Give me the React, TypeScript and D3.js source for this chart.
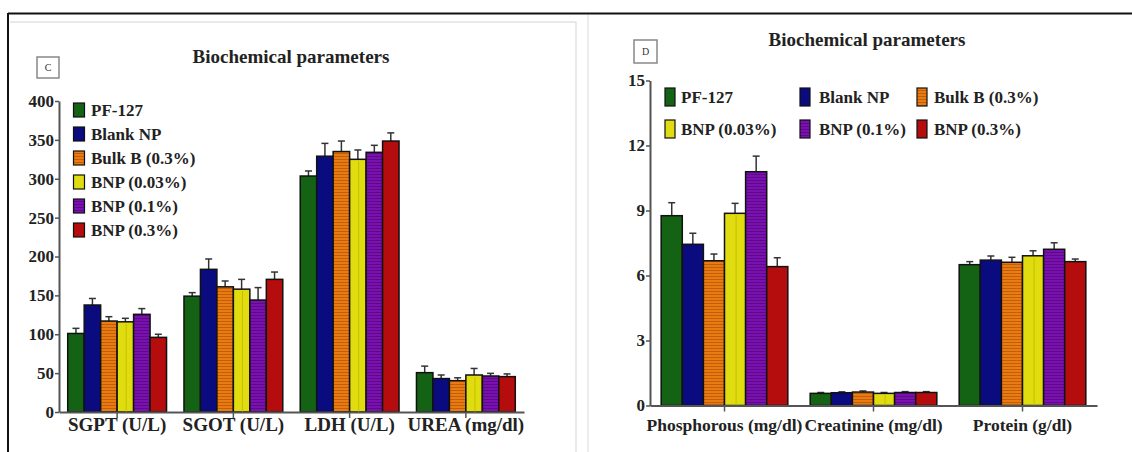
import { useRef, useEffect } from 'react';
import * as d3 from 'd3';

const GROUPS = ['PF-127', 'Blank NP', 'Bulk B (0.3%)', 'BNP (0.03%)', 'BNP (0.1%)', 'BNP (0.3%)'];
const COLORS = ['#146314', '#0b0b80', '#ea7a12', '#e0dc10', '#7a10b0', '#b50d0d'];

const LEFT_CATEGORIES = ['SGPT (U/L)', 'SGOT (U/L)', 'LDH (U/L)', 'UREA (mg/dl)'];
const LEFT_MEANS = [
  [101, 137.6, 117, 116, 125.6, 96],
  [149, 183.5, 161, 158, 144, 170.6],
  [303.5, 329, 335, 325, 334, 348.5],
  [50.6, 43, 40.3, 47.6, 46.3, 45.5],
];
const LEFT_ERRORS = [
  [6.6, 8.4, 5.6, 4.5, 7.4, 4],
  [4.5, 13.3, 7.5, 12.6, 16, 9.4],
  [6.5, 16.5, 13.5, 12, 9, 10.5],
  [8.4, 4.6, 3.7, 8.4, 3.4, 3.5],
];
const LEFT_TICKS = [0, 50, 100, 150, 200, 250, 300, 350, 400];

const RIGHT_CATEGORIES = ['Phosphorous (mg/dl)', 'Creatinine (mg/dl)', 'Protein (g/dl)'];
const RIGHT_MEANS = [
  [8.76, 7.44, 6.68, 8.87, 10.79, 6.41],
  [0.56, 0.59, 0.62, 0.56, 0.6, 0.6],
  [6.5, 6.71, 6.61, 6.91, 7.21, 6.64],
];
const RIGHT_ERRORS = [
  [0.6, 0.51, 0.31, 0.46, 0.72, 0.41],
  [0.04, 0.04, 0.05, 0.04, 0.04, 0.04],
  [0.14, 0.19, 0.23, 0.23, 0.3, 0.12],
];
const RIGHT_TICKS = [0, 3, 6, 9, 12, 15];

const FONT = '"Liberation Serif", "Times New Roman", serif';

type Panel = {
  categories: string[];
  means: number[][];
  errors: number[][];
  ticks: number[];
  xRange: [number, number];
  yRange: [number, number];
  catFont: number;
  title: string;
  titleX: number;
  titleY: number;
  letter: string;
  box: [number, number, number, number];
};

export default function App() {
  const ref = useRef<SVGSVGElement>(null);

  useEffect(() => {
    if (!ref.current) return;
    const svg = d3.select(ref.current);
    svg.selectAll('*').remove();

    // patterns for hatched bars
    const defs = svg.append('defs');
    const stripes = (id: string, base: string, line: string) => {
      const p = defs.append('pattern').attr('id', id)
        .attr('patternUnits', 'userSpaceOnUse').attr('width', 6).attr('height', 3);
      p.append('rect').attr('width', 6).attr('height', 3).attr('fill', base);
      p.append('rect').attr('width', 6).attr('height', 1).attr('fill', line);
    };
    stripes('pat-orange', COLORS[2], '#c05f08');
    stripes('pat-purple', COLORS[4], '#5c0a88');
    const fillFor = (i: number) => (i === 2 ? 'url(#pat-orange)' : i === 4 ? 'url(#pat-purple)' : COLORS[i]);

    // frame
    svg.append('line').attr('x1', 8).attr('x2', 1132).attr('y1', 13.5).attr('y2', 13.5)
      .attr('stroke', '#111').attr('stroke-width', 2);
    svg.append('line').attr('x1', 8).attr('x2', 8).attr('y1', 13).attr('y2', 452)
      .attr('stroke', '#111').attr('stroke-width', 2);
    svg.append('path').attr('d', 'M10,22H576V452').attr('fill', 'none')
      .attr('stroke', '#e2e2e2').attr('stroke-width', 1.5);
    svg.append('line').attr('x1', 588).attr('x2', 588).attr('y1', 15).attr('y2', 452)
      .attr('stroke', '#e6e6e6').attr('stroke-width', 1.5);

    const panels: Panel[] = [
      {
        categories: LEFT_CATEGORIES, means: LEFT_MEANS, errors: LEFT_ERRORS, ticks: LEFT_TICKS,
        xRange: [59, 524], yRange: [412, 101], catFont: 19,
        title: 'Biochemical parameters', titleX: 291, titleY: 63, letter: 'C', box: [37, 57, 22, 21],
      },
      {
        categories: RIGHT_CATEGORIES, means: RIGHT_MEANS, errors: RIGHT_ERRORS, ticks: RIGHT_TICKS,
        xRange: [650, 1097], yRange: [405.5, 80.5], catFont: 17.5,
        title: 'Biochemical parameters', titleX: 867, titleY: 46, letter: 'D', box: [634, 40, 23, 23],
      },
    ];

    panels.forEach((pn) => {
      const g = svg.append('g');
      const y = d3.scaleLinear().domain([0, pn.ticks[pn.ticks.length - 1]]).range(pn.yRange);
      const x0 = d3.scaleBand<string>().domain(pn.categories).range(pn.xRange)
        .paddingInner(0.15).paddingOuter(0.075);
      const x1 = d3.scaleBand<number>().domain(d3.range(GROUPS.length)).range([0, x0.bandwidth()]);

      // title + panel letter
      g.append('text').attr('x', pn.titleX).attr('y', pn.titleY).attr('text-anchor', 'middle')
        .attr('font-family', FONT).attr('font-weight', 'bold').attr('font-size', 19).attr('fill', '#222')
        .text(pn.title);
      const [bx, by, bw, bh] = pn.box;
      g.append('rect').attr('x', bx).attr('y', by).attr('width', bw).attr('height', bh)
        .attr('fill', '#fff').attr('stroke', '#888').attr('stroke-width', 1.5);
      g.append('text').attr('x', bx + bw / 2).attr('y', by + bh / 2 + 3.5).attr('text-anchor', 'middle')
        .attr('font-family', FONT).attr('font-size', 10).attr('fill', '#333').text(pn.letter);

      // bars
      pn.categories.forEach((cat, ci) => {
        const gx = x0(cat)!;
        pn.means[ci].forEach((v, i) => {
          const bx1 = gx + x1(i)!;
          const w = x1.bandwidth();
          const top = y(v + pn.errors[ci][i]);
          g.append('line').attr('x1', bx1 + w / 2).attr('x2', bx1 + w / 2)
            .attr('y1', y(v)).attr('y2', top).attr('stroke', '#333').attr('stroke-width', 1.5);
          g.append('line').attr('x1', bx1 + w / 2 - 3.5).attr('x2', bx1 + w / 2 + 3.5)
            .attr('y1', top).attr('y2', top).attr('stroke', '#333').attr('stroke-width', 1.5);
          g.append('rect').attr('x', bx1).attr('y', y(v)).attr('width', w).attr('height', y(0) - y(v))
            .attr('fill', fillFor(i)).attr('stroke', '#111').attr('stroke-width', 1.5);
          if (i === 3) {
            g.append('line').attr('x1', bx1 + w * 0.55).attr('x2', bx1 + w * 0.55)
              .attr('y1', y(v) + 2).attr('y2', y(0)).attr('stroke', '#c4c000').attr('stroke-width', 1);
          }
        });
      });

      // y axis
      g.append('g').attr('transform', `translate(${pn.xRange[0]},0)`)
        .call(d3.axisLeft(y).tickValues(pn.ticks).tickSize(4).tickSizeOuter(0).tickPadding(1))
        .call((s) => s.select('.domain').attr('stroke', '#555').attr('stroke-width', 2))
        .call((s) => s.selectAll('.tick line').attr('stroke', '#555').attr('stroke-width', 1.5))
        .call((s) => s.selectAll('text').attr('font-family', FONT).attr('font-weight', 'bold')
          .attr('font-size', 17).attr('fill', '#222'));

      // x axis
      g.append('g').attr('transform', `translate(0,${pn.yRange[0]})`)
        .call(d3.axisBottom(x0).tickSize(6).tickSizeOuter(0).tickFormat(() => ''))
        .call((s) => s.select('.domain').attr('stroke', '#555').attr('stroke-width', 2))
        .call((s) => s.selectAll('.tick line').attr('stroke', '#555').attr('stroke-width', 1.5));

      pn.categories.forEach((cat) => {
        g.append('text').attr('x', x0(cat)! + x0.bandwidth() / 2).attr('y', 431)
          .attr('text-anchor', 'middle').attr('font-family', FONT).attr('font-weight', 'bold')
          .attr('font-size', pn.catFont).attr('fill', '#222').text(cat);
      });
    });

    // left legend: one column
    GROUPS.forEach((name, i) => {
      const cy = 110 + i * 24;
      svg.append('rect').attr('x', 73.5).attr('y', cy - 7).attr('width', 11).attr('height', 14)
        .attr('fill', fillFor(i)).attr('stroke', '#111').attr('stroke-width', 1.2);
      svg.append('text').attr('x', 91).attr('y', cy + 6).attr('font-family', FONT)
        .attr('font-weight', 'bold').attr('font-size', 17).attr('fill', '#222').text(name);
    });

    // right legend: three columns, two rows
    const colSwatch = [665, 800, 917];
    const colText = [681, 819, 934];
    GROUPS.forEach((name, i) => {
      const col = i % 3;
      const row = Math.floor(i / 3);
      const cy = 97 + row * 32;
      svg.append('rect').attr('x', colSwatch[col]).attr('y', cy - 9).attr('width', 10).attr('height', 18)
        .attr('fill', fillFor(i)).attr('stroke', '#111').attr('stroke-width', 1.2);
      svg.append('text').attr('x', colText[col]).attr('y', cy + 6).attr('font-family', FONT)
        .attr('font-weight', 'bold').attr('font-size', 17).attr('fill', '#222').text(name);
    });
  }, []);

  return (
    <div style={{ position: 'absolute', left: 0, top: 0 }}>
      <svg ref={ref} width={1132} height={452} style={{ display: 'block', background: '#fff' }} />
    </div>
  );
}
